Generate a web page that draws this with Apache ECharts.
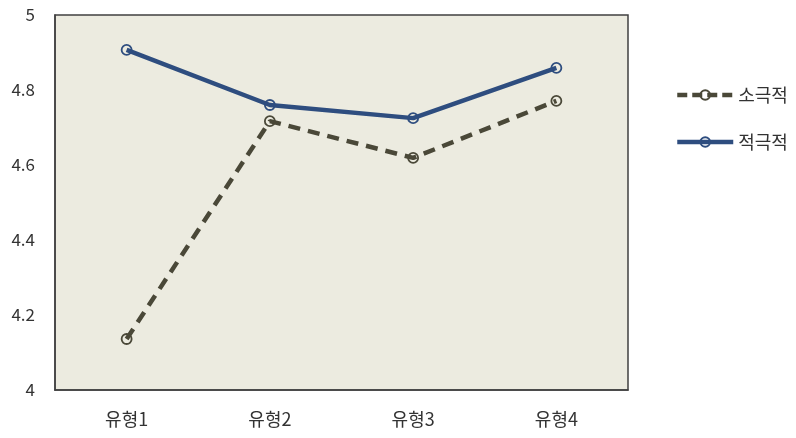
<!DOCTYPE html>
<html>
<head>
<meta charset="utf-8">
<script src="https://cdn.jsdelivr.net/npm/echarts@6/dist/echarts.min.js"></script>
<style>
html, body { margin: 0; padding: 0; background: #fff; }
#main { width: 796px; height: 438px; }
</style>
</head>
<body>
<div id="main"></div>
<script>
var categories = ['유형1', '유형2', '유형3', '유형4'];
var passive = [4.136, 4.717, 4.619, 4.771];   // 소극적
var active = [4.907, 4.760, 4.725, 4.859];    // 적극적

var font = '"Noto Sans CJK KR", "Noto Sans", sans-serif';
var darkCol = '#4a4838';
var blueCol = '#2e4d7f';

var option = {
    backgroundColor: '#ffffff',
    textStyle: { fontFamily: font },
    grid: {
        left: 55, top: 15, width: 573, height: 375,
        show: true, backgroundColor: '#ecebe0', borderColor: '#404040', borderWidth: 1.5
    },
    legend: {
        orient: 'vertical',
        left: 670, top: 81,
        itemWidth: 56, itemHeight: 12, itemGap: 29,
        textStyle: { fontSize: 18, color: '#333', fontFamily: font },
        data: [
            { name: '소극적', lineStyle: { width: 4.5, type: [10, 5] } },
            { name: '적극적', lineStyle: { width: 4.5 } }
        ]
    },
    xAxis: {
        type: 'category',
        data: categories,
        axisLine: { show: true, lineStyle: { color: '#404040', width: 1.5 } },
        axisTick: { show: false },
        axisLabel: { fontSize: 18, color: '#333', margin: 20 }
    },
    yAxis: {
        type: 'value',
        min: 4, max: 5, interval: 0.2,
        axisLine: { show: true, lineStyle: { color: '#404040', width: 1.5 } },
        axisTick: { show: false },
        splitLine: { show: false },
        axisLabel: { fontSize: 17, color: '#333', margin: 20 }
    },
    series: [
        {
            name: '소극적',
            type: 'line',
            data: passive,
            symbol: 'circle',
            symbolSize: 10,
            itemStyle: { color: 'rgba(0,0,0,0)', borderColor: darkCol, borderWidth: 1.8 },
            lineStyle: { color: darkCol, width: 4.5, type: [12, 8] }
        },
        {
            name: '적극적',
            type: 'line',
            data: active,
            symbol: 'circle',
            symbolSize: 10,
            itemStyle: { color: 'rgba(0,0,0,0)', borderColor: blueCol, borderWidth: 1.8 },
            lineStyle: { color: blueCol, width: 4.5 }
        }
    ]
};

var myChart = echarts.init(document.getElementById('main'));
myChart.setOption(option);
</script>
</body>
</html>
